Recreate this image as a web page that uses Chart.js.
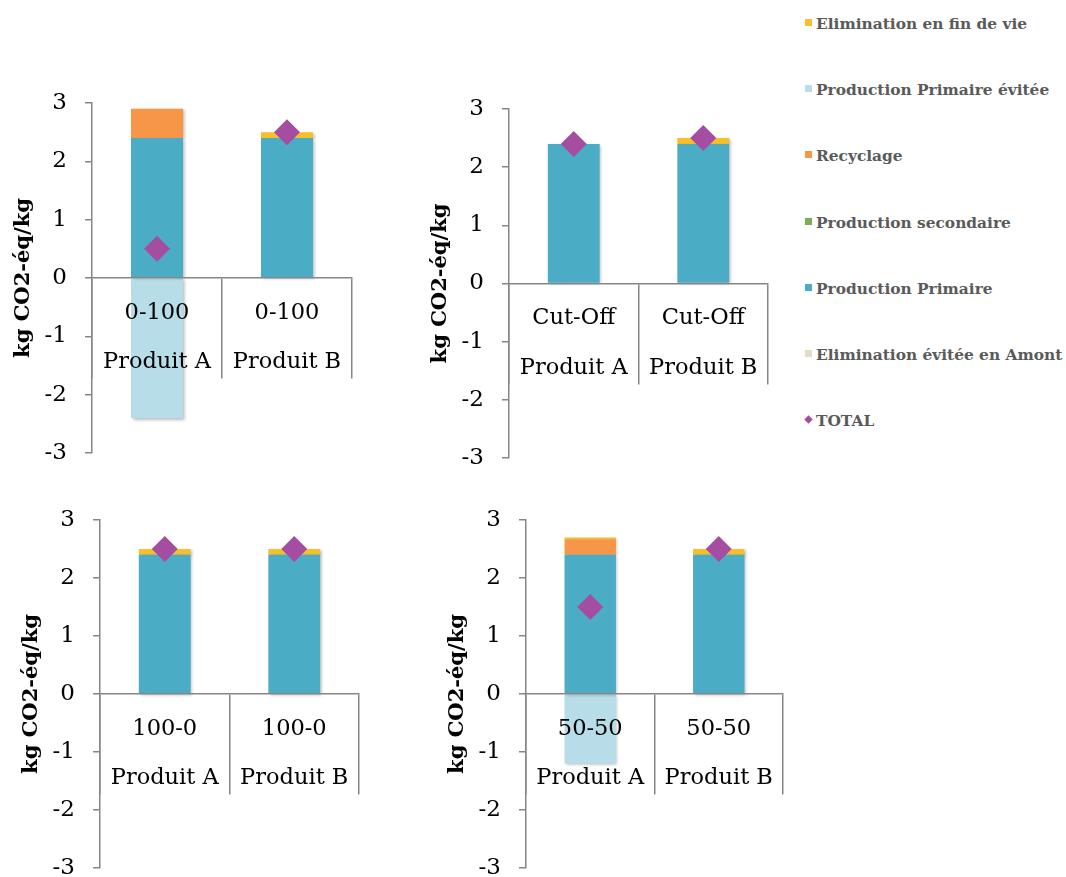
<!DOCTYPE html>
<html>
<head>
<meta charset="utf-8">
<script src="https://cdn.jsdelivr.net/npm/chart.js@4.4.1/dist/chart.umd.min.js"></script>
<style>
  html, body { margin: 0; padding: 0; background: #fff; overflow: hidden; }
  body { width: 1066px; height: 877px; position: relative; }
  .panel { position: absolute; }
  #legende { position: absolute; left: 805px; top: 0; font-family: "DejaVu Serif", serif; font-weight: bold; font-size: 15.4px; color: #5a5a5a; }
  .item { position: absolute; left: 0; white-space: nowrap; height: 20px; line-height: 20px; }
  .marque { display: inline-block; width: 7px; height: 7px; margin-right: 4px; vertical-align: 3px; }
  .losange { transform: rotate(45deg) scale(0.85); }
</style>
</head>
<body>
<div class="panel" id="p0"><canvas id="c0"></canvas></div>
<div class="panel" id="p1"><canvas id="c1"></canvas></div>
<div class="panel" id="p2"><canvas id="c2"></canvas></div>
<div class="panel" id="p3"><canvas id="c3"></canvas></div>
<div id="legende"></div>
<script>
// ── DONNEES ──────────────────────────────────────────────
const produits  = ["Produit A", "Produit B"];
const scenarios = ["0-100", "Cut-Off", "100-0", "50-50"];

// une paire [Produit A, Produit B] par scénario
const eliminationEviteeAmont   = [[0, 0],    [0, 0],   [0, 0],     [0, 0]];
const productionPrimaire       = [[2.4, 2.4],[2.4, 2.4],[2.4, 2.4],[2.4, 2.4]];
const productionSecondaire     = [[0, 0],    [0, 0],   [0, 0],     [0, 0]];
const recyclage                = [[0.5, 0],  [0, 0],   [0, 0],     [0.27, 0]];
const productionPrimaireEvitee = [[-2.4, 0], [0, 0],   [0, 0],     [-1.2, 0]];
const eliminationFinDeVie      = [[0, 0.1],  [0, 0.1], [0.1, 0.1], [0.03, 0.1]];
const total                    = [[0.5, 2.5],[2.4, 2.5],[2.5, 2.5],[1.5, 2.5]];

const yTicks = [-3, -2, -1, 0, 1, 2, 3];

// ordre d'empilement (bas -> haut)
const series = [
  { nom: "Elimination évitée en Amont", valeurs: eliminationEviteeAmont,   couleur: "#E2DCC1" },
  { nom: "Production Primaire",         valeurs: productionPrimaire,       couleur: "#4BACC6" },
  { nom: "Production secondaire",       valeurs: productionSecondaire,     couleur: "#77AD55" },
  { nom: "Recyclage",                   valeurs: recyclage,                couleur: "#F79646" },
  { nom: "Production Primaire évitée",  valeurs: productionPrimaireEvitee, couleur: "#B7DEE8" },
  { nom: "Elimination en fin de vie",   valeurs: eliminationFinDeVie,      couleur: "#F6C02B" },
];
const couleurTotal = "#A54DA0";

// ── MISE EN PAGE ─────────────────────────────────────────
const panneaux = [
  { left: 0,   top: 88,  width: 367, height: 380 },
  { left: 417, top: 94,  width: 366, height: 379 },
  { left: 8,   top: 505, width: 366, height: 378 },
  { left: 434, top: 505, width: 364, height: 378 },
];

const gris = "#868686";
const police = "'DejaVu Serif', serif";

// ombre légère sous les barres
const ombreBarres = {
  id: "ombreBarres",
  beforeDatasetDraw(chart, args) {
    if (args.meta.type !== "bar") return;
    const ctx = chart.ctx;
    ctx.save();
    ctx.shadowColor = "rgba(0,0,0,0.28)";
    ctx.shadowBlur = 3;
    ctx.shadowOffsetX = 1.5;
    ctx.shadowOffsetY = 1.5;
  },
  afterDatasetDraw(chart, args) {
    if (args.meta.type !== "bar") return;
    chart.ctx.restore();
  },
};

function creerGraphique(i) {
  const p = panneaux[i];
  const div = document.getElementById("p" + i);
  div.style.left = p.left + "px";
  div.style.top = p.top + "px";
  div.style.width = p.width + "px";
  div.style.height = p.height + "px";

  const labels = produits.map(prod => [scenarios[i], prod]);

  const datasets = series.map(s => ({
    type: "bar",
    label: s.nom,
    data: s.valeurs[i],
    backgroundColor: s.couleur,
    borderWidth: 0,
    barPercentage: 0.4,
    categoryPercentage: 1,
    order: 1,
  }));
  datasets.push({
    type: "line",
    label: "TOTAL",
    data: total[i],
    showLine: false,
    pointStyle: "rectRot",
    pointRadius: 13,
    pointBackgroundColor: couleurTotal,
    pointBorderColor: couleurTotal,
    pointBorderWidth: 0,
    order: 0,
  });

  new Chart(document.getElementById("c" + i), {
    data: { labels, datasets },
    plugins: [ombreBarres],
    options: {
      responsive: true,
      maintainAspectRatio: false,
      animation: false,
      events: [],
      layout: { padding: { top: 15, bottom: 15, left: 0, right: 15 } },
      plugins: { legend: { display: false }, tooltip: { enabled: false } },
      scales: {
        x: {
          type: "category",
          stacked: true,
          position: { y: 0 },
          afterFit: s => { s.paddingLeft = 0; s.paddingRight = 0; },
          grid: { display: true, drawOnChartArea: false, drawTicks: true, tickLength: 100, color: gris, lineWidth: 1.5, offset: true },
          border: { display: true, color: gris, width: 1.5, z: 1 },
          ticks: { z: 1, padding: -90, color: "#000", font: { family: police, size: 22.5, lineHeight: 2.2 } },
        },
        y: {
          stacked: true,
          min: yTicks[0],
          max: yTicks[yTicks.length - 1],
          afterFit: s => { s.width = 92; s.paddingTop = 0; s.paddingBottom = 0; },
          afterBuildTicks: s => { s.ticks = yTicks.map(v => ({ value: v })); },
          grid: { display: true, drawOnChartArea: false, drawTicks: true, tickLength: 7, color: gris, lineWidth: 1.5 },
          border: { display: true, color: gris, width: 1.5 },
          ticks: { padding: 18, color: "#000", font: { family: police, size: 23 } },
          title: {
            display: true,
            text: "kg CO2-éq/kg",
            color: "#000",
            padding: { top: 11, bottom: 0 },
            font: { family: police, size: 21, weight: "bold" },
          },
        },
      },
    },
  });
}

for (let i = 0; i < scenarios.length; i++) creerGraphique(i);

// ── LEGENDE ──────────────────────────────────────────────
const legende = document.getElementById("legende");
const itemsLegende = [...series].reverse().map(s => ({ nom: s.nom, couleur: s.couleur, losange: false }));
itemsLegende.push({ nom: "TOTAL", couleur: couleurTotal, losange: true });
itemsLegende.forEach((it, k) => {
  const d = document.createElement("div");
  d.className = "item";
  d.style.top = (14 + k * 66.2) + "px";
  d.innerHTML = `<span class="marque${it.losange ? " losange" : ""}" style="background:${it.couleur}"></span>${it.nom}`;
  legende.appendChild(d);
});
</script>
</body>
</html>
